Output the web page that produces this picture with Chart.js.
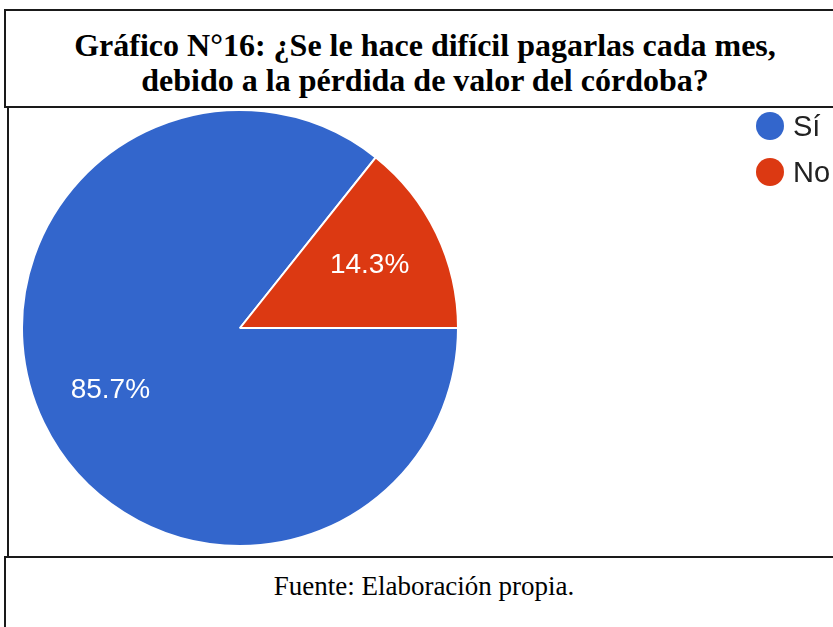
<!DOCTYPE html>
<html>
<head>
<meta charset="utf-8">
<script src="https://cdn.jsdelivr.net/npm/chart.js@4"></script>
<style>
  html, body { margin: 0; padding: 0; background: #fff; }
  body { width: 833px; height: 627px; overflow: hidden; position: relative; }
  .cell { position: absolute; box-sizing: border-box; border: 2px solid #1a1a1a; }
  #titleCell { left: 4px; top: 9px; width: 880px; height: 99px; }
  #chartCell { left: 7px; top: 106px; width: 880px; height: 452px; }
  #footCell { left: 4px; top: 556px; width: 880px; height: 100px; }
  #title {
    position: absolute; left: 5px; top: 28px; width: 840px; text-align: center;
    font-family: "Liberation Serif", "Times New Roman", serif; font-weight: bold;
    font-size: 32px; line-height: 35px; color: #000;
  }
  #foot {
    position: absolute; left: 5px; top: 571px; width: 838px; text-align: center;
    font-family: "Liberation Serif", "Times New Roman", serif; font-size: 27px; color: #000;
  }
  #wrap { position: absolute; left: 9px; top: 108px; width: 824px; height: 448px; }
  #legend {
    position: absolute; left: 756px; top: 112px;
    font-family: "Liberation Sans", Arial, sans-serif; font-size: 29px; color: #222;
  }
  .item { height: 46px; display: flex; align-items: flex-start; white-space: nowrap; }
  .dot { width: 28px; height: 28px; border-radius: 50%; margin-right: 9px; flex: none; }
  .item span { line-height: 28px; }
</style>
</head>
<body>
<div class="cell" id="titleCell"></div>
<div class="cell" id="chartCell"></div>
<div class="cell" id="footCell"></div>
<div id="title">Gráfico N°16: ¿Se le hace difícil pagarlas cada mes,<br>debido a la pérdida de valor del córdoba?</div>
<div id="wrap"><canvas id="pie"></canvas></div>
<div id="legend"></div>
<div id="foot">Fuente: Elaboración propia.</div>
<script>
// data
const labels = ["Sí", "No"];
const values = [85.7, 14.3];
const colors = ["#3366cc", "#dc3912"];

// legend (html, cut off at the right edge like the original)
const legend = document.getElementById('legend');
labels.forEach((lab, i) => {
   const item = document.createElement('div');
   item.className = 'item';
   item.innerHTML = '<div class="dot" style="background:' + colors[i] + '"></div><span>' + lab + '</span>';
   legend.appendChild(item);
});

// percentage labels inside the slices
const sliceLabels = {
   id: 'sliceLabels',
   afterDatasetsDraw(chart) {
      const ctx = chart.ctx;
      const data = chart.data.datasets[0].data;
      const total = data.reduce((a, b) => a + b, 0);
      chart.getDatasetMeta(0).data.forEach((arc, i) => {
         const p = arc.getProps(['x', 'y', 'startAngle', 'endAngle', 'outerRadius']);
         const mid = (p.startAngle + p.endAngle) / 2;
         const r = p.outerRadius * 0.66;
         ctx.save();
         ctx.fillStyle = '#ffffff';
         ctx.font = '28px "Liberation Sans", Arial, sans-serif';
         ctx.textAlign = 'center';
         ctx.textBaseline = 'middle';
         ctx.fillText((data[i] / total * 100).toFixed(1) + '%', p.x + Math.cos(mid) * r, p.y + Math.sin(mid) * r);
         ctx.restore();
      });
   }
};

new Chart(document.getElementById('pie'), {
   type: 'pie',
   data: {
      labels: labels,
      datasets: [{
         data: values,
         backgroundColor: colors,
         borderColor: '#ffffff',
         borderWidth: 2
      }]
   },
   options: {
      responsive: true,
      maintainAspectRatio: false,
      animation: false,
      rotation: 90,
      layout: { padding: { left: 12, right: 374, top: 0, bottom: 8 } },
      plugins: {
         legend: { display: false },
         tooltip: { enabled: false }
      }
   },
   plugins: [sliceLabels]
});
</script>
</body>
</html>
